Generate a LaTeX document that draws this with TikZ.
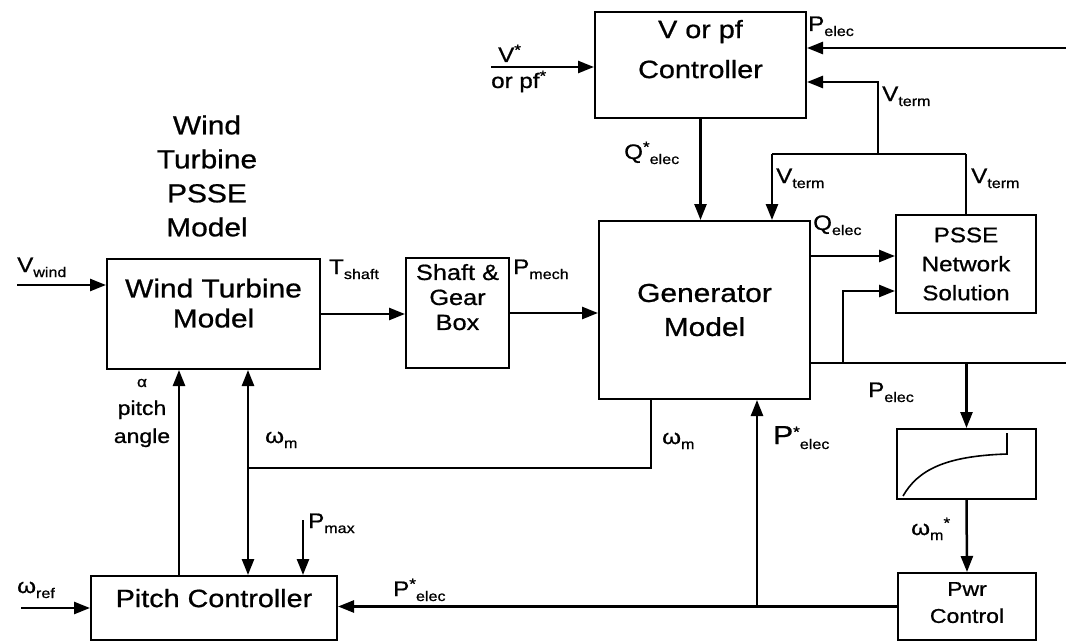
\documentclass[tikz,border=0pt]{standalone}
\usepackage{fontspec}
\setmainfont{Liberation Sans}[FakeStretch=1.15, FakeBold=0.8]
\usetikzlibrary{arrows.meta, positioning, calc}
\tikzset{
  blk/.style={
    draw, line width=2pt, inner sep=0pt,
    align=center, font=\fontsize{25}{34}\selectfont
  },
  sig/.style={-{Triangle[length=16pt,width=12pt]}, line width=2.5pt},
  dsig/.style={{Triangle[length=16pt,width=12pt]}-{Triangle[length=16pt,width=12pt]}, line width=2.5pt},
  line/.style={line width=2.5pt},
  lbl/.style={inner sep=0pt, anchor=base west, font=\fontsize{21}{21}\selectfont},
  grp/.style={inner sep=0pt, align=center, font=\fontsize{26}{34}\selectfont}
}
\newcommand{\sbs}[1]{\raisebox{-5pt}{\fontsize{14}{14}\selectfont #1}}
\newcommand{\sps}[1]{\raisebox{7pt}{\fontsize{15}{15}\selectfont #1}}

\begin{document}
\begin{tikzpicture}[x=1pt, y=-1pt]
  \useasboundingbox (0,0) rectangle (1066,642);

  % blocks
  \node[blk, minimum width=211pt, minimum height=106pt, text depth=32pt,
        font=\fontsize{25}{40}\selectfont] (vpf) at (700.5,65) {V or pf\\Controller};
  \node[blk, minimum width=213pt, minimum height=110pt, text depth=22pt,
        font=\fontsize{26}{30}\selectfont] (wtm) at (213.5,314) {Wind Turbine\\Model};
  \node[blk, minimum width=103pt, minimum height=110pt, text depth=32pt,
        font=\fontsize{22}{25}\selectfont] (gear) at (457.5,313) {Shaft \&\\Gear\\Box};
  \node[blk, minimum width=211pt, minimum height=178pt,
        font=\fontsize{26}{34}\selectfont] (gen) at (704.5,310) {Generator\\Model};
  \node[blk, minimum width=140pt, minimum height=98pt,
        font=\fontsize{21}{29}\selectfont] (psse) at (966,264) {PSSE\\Network\\Solution};
  \node[blk, minimum width=139pt, minimum height=70pt] (crv) at (966.5,464) {};
  \node[blk, minimum width=138pt, minimum height=67pt, text depth=8pt,
        font=\fontsize{20}{27}\selectfont] (pwr) at (967,606.5) {Pwr\\Control};
  \node[blk, minimum width=246pt, minimum height=64pt, text depth=20pt] (pitch) at (214,608) {Pitch Controller};

  \node[grp] (title) at (207,176) {Wind\\Turbine\\PSSE\\Model};

  % characteristic in the speed block
  \draw[line width=1.6pt] (903,496) .. controls (918,470) and (945,456) .. (1007,454) -- (1007,433);

  % free ends and branch points
  \coordinate (vs)  at (491,67);
  \coordinate (pe)  at (1066,48);
  \coordinate (vt1) at (878,154);
  \coordinate (vt2) at (878,82);
  \coordinate (vl)  at (772,154);
  \coordinate (vr)  at (966,154);
  \coordinate (qy)  at (810,256);
  \coordinate (bus) at (1066,363);
  \coordinate (bj)  at (843,363);
  \coordinate (bk)  at (843,291);
  \coordinate (wv)  at (17,285);
  \coordinate (jp)  at (757,606.5);
  \coordinate (wg)  at (651,468);
  \coordinate (wj)  at (248,468);
  \coordinate (ax)  at (179,468);
  \coordinate (pm)  at (303,520);
  \coordinate (wr)  at (21,608);

  % connectors
  \draw[sig] (vs) -- (vs -| vpf.west);
  \draw[sig] (pe) -- (pe -| vpf.east);
  \draw[sig] (vt1) -- (vt2) -- (vt2 -| vpf.east);
  \draw[line] (vl) -- (vr);
  \draw[sig] (vl) -- (vl |- gen.north);
  \draw[line] (vr) -- (psse.north);
  \draw[sig] (vpf.south) -- (vpf.south |- gen.north);
  \draw[sig] (wv) -- (wv -| wtm.west);
  \draw[sig] (wtm.east) -- (wtm.east -| gear.west);
  \draw[sig] (gear.east) -- (gear.east -| gen.west);
  \draw[sig] (qy) -- (qy -| psse.west);
  \draw[line] (gen.east |- bus) -- (bus);
  \draw[sig] (bj) -- (bk) -- (bk -| psse.west);
  \draw[sig] (crv.north |- bus) -- (crv.north);
  \draw[sig] (crv.south) -- (pwr.north);
  \draw[sig] (pwr.west) -- (pwr.west -| pitch.east);
  \draw[sig] (jp) -- (jp |- gen.south);
  \draw[line] (wg |- gen.south) -- (wg) -- (wj);
  \draw[dsig] (wj |- wtm.south) -- (wj |- pitch.north);
  \draw[sig] (ax |- pitch.north) -- (ax |- wtm.south);
  \draw[sig] (pm) -- (pm |- pitch.north);
  \draw[sig] (wr) -- (pitch.west);

  % signal labels
  \node[lbl] at (498,62) {V\sps{*}};
  \node[lbl] at (491,88) {or pf\sps{*}};
  \node[lbl] at (808,31) {P\sbs{elec}};
  \node[lbl] at (882,101) {V\sbs{term}};
  \node[lbl] at (624,159) {Q\sps{*}\sbs{elec}};
  \node[lbl] at (776,183) {V\sbs{term}};
  \node[lbl] at (971,183) {V\sbs{term}};
  \node[lbl] at (813,230) {Q\sbs{elec}};
  \node[lbl] at (17,272) {V\sbs{wind}};
  \node[lbl] at (329,274) {T\sbs{shaft}};
  \node[lbl] at (513,274) {P\sbs{mech}};
  \node[lbl] at (868,397) {P\sbs{elec}};
  \node[lbl] at (911,535) {ω\sbs{m}\sps{*}};
  \node[lbl] at (662,444) {ω\sbs{m}};
  \node[lbl] at (265,443) {ω\sbs{m}};
  \node[lbl, font=\fontsize{26}{26}\selectfont] at (773,444) {P\sps{*}\sbs{elec}};
  \node[lbl] at (393,596) {P\sps{*}\sbs{elec}};
  \node[lbl] at (308,528) {P\sbs{max}};
  \node[lbl] at (17,593) {ω\sbs{ref}};
  \node[inner sep=0pt, align=center, font=\fontsize{20}{28}\selectfont] at (142,413) {{\fontsize{15}{15}\selectfont α}\\pitch\\angle};
\end{tikzpicture}
\end{document}
